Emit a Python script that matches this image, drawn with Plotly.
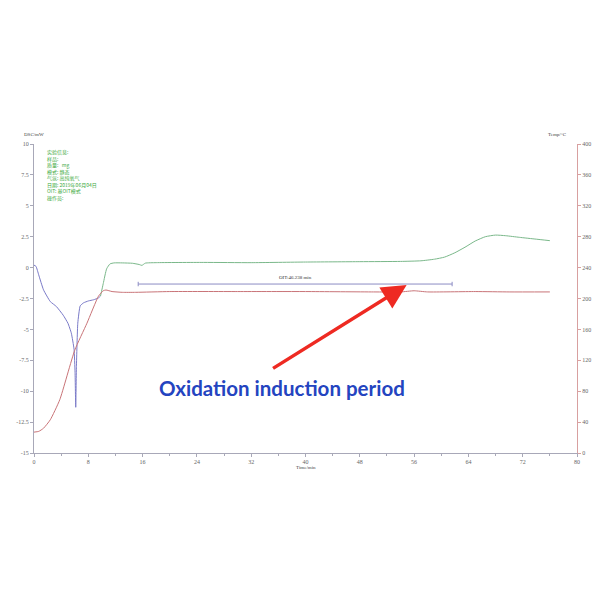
import plotly.graph_objects as go

# ---- data ----
heat_time = [0, 0.3, 0.7, 1.4, 2.4, 3.3, 4.3, 5.0, 5.5, 5.9, 6.05, 6.15, 6.25, 6.45, 6.8, 7.3, 8.0, 8.8, 9.5, 9.8]
heat_dsc = [0.2, 0.1, -0.6, -1.8, -2.75, -3.15, -3.85, -4.5, -5.3, -6.6, -8.5, -11.3, -8.0, -4.5, -3.1, -2.85, -2.7, -2.6, -2.45, -2.3]

iso_time = [9.8, 10.2, 10.7, 11.2, 11.8, 13, 14.5, 15.5, 15.9, 16.4, 18, 25, 32, 40, 48, 54, 57, 59,
            60.5, 62, 63.5, 65, 66.5, 68, 69.5, 71.5, 74, 76]
iso_dsc = [-2.3, -1.3, -0.1, 0.3, 0.38, 0.38, 0.35, 0.25, 0.18, 0.36, 0.4, 0.42, 0.4, 0.45, 0.48, 0.5, 0.55, 0.68,
           0.85, 1.2, 1.65, 2.15, 2.5, 2.63, 2.58, 2.45, 2.3, 2.18]

temp_time = [0, 0.7, 1.4, 2.4, 3.8, 6.0, 7.8, 9.5, 10.2, 10.6, 11.5, 13, 15, 20, 30, 40, 50, 54, 56, 58, 65, 70, 76]
temp_c = [27, 28, 32, 43, 69, 133, 168, 203, 210, 211, 209, 208, 208, 209, 209, 209, 208.5, 208.5, 210, 208.5, 209, 208.5, 208.5]

oit_start = 15.35
oit_end = 61.6
oit_level = -1.33
oit_label = "OIT:46.238 min"

x_ticks = [0, 8, 16, 24, 32, 40, 48, 56, 64, 72, 80]
y_ticks = [10, 7.5, 5, 2.5, 0, -2.5, -5, -7.5, -10, -12.5, -15]
y_tick_text = ["10", "7.5", "5", "2.5", "0", "-2.5", "-5", "-7.5", "-10", "-12.5", "-15"]
y2_ticks = [0, 40, 80, 120, 160, 200, 240, 280, 320, 360, 400]

info_lines = ["实验信息:", "样品:", "质量:   mg", "模式: 静态", "气氛: 高纯氧气",
              "日期: 2019年06月04日", "OIT: 基OIT模式", "操作员:"]

arrow_head = (54.9, -1.41)
arrow_tail = (35.0, -8.23)
caption = "Oxidation induction period"
caption_pos = (36.6, -9.74)

tick_font = dict(family="Liberation Serif", size=6, color="#666666")

fig = go.Figure()

fig.add_trace(go.Scatter(x=temp_time, y=temp_c, mode="lines", yaxis="y2",
                         line=dict(color="#c97478", width=1, shape="spline", smoothing=0.5),
                         showlegend=False, hoverinfo="skip"))
fig.add_trace(go.Scatter(x=heat_time, y=heat_dsc, mode="lines",
                         line=dict(color="#7a7ac8", width=1, shape="spline", smoothing=0.4),
                         showlegend=False))
fig.add_trace(go.Scatter(x=iso_time, y=iso_dsc, mode="lines",
                         line=dict(color="#7ab88a", width=1, shape="spline", smoothing=0.5),
                         showlegend=False))

cap = 0.18
fig.add_trace(go.Scatter(
    x=[oit_start, oit_end, None, oit_start, oit_start, None, oit_end, oit_end],
    y=[oit_level, oit_level, None, oit_level - cap, oit_level + cap, None, oit_level - cap, oit_level + cap],
    mode="lines", line=dict(color="#8c8cc4", width=1), showlegend=False, hoverinfo="skip"))

fig.add_annotation(x=(oit_start + oit_end) / 2, y=oit_level, text=oit_label, showarrow=False,
                   yanchor="bottom", yshift=2, font=dict(family="Liberation Serif", size=5, color="#333333"))

fig.add_annotation(x=arrow_head[0], y=arrow_head[1], ax=arrow_tail[0], ay=arrow_tail[1],
                   axref="x", ayref="y", xref="x", yref="y", text="", showarrow=True,
                   arrowhead=2, arrowsize=1.4, arrowwidth=3.5, arrowcolor="#ee2a22")

fig.add_annotation(x=caption_pos[0], y=caption_pos[1], text="<b>" + caption + "</b>", showarrow=False,
                   font=dict(family="Lato", size=20.5, color="#2444c0"))

fig.add_annotation(x=0.02, y=0.995, xref="paper", yref="paper", xanchor="left", yanchor="top",
                   text="<br>".join(info_lines), showarrow=False, align="left",
                   font=dict(family="Noto Sans CJK SC", size=5, color="#3aa83a"))

fig.add_annotation(x=-0.022, y=1.045, xref="paper", yref="paper", text="DSC/mW", showarrow=False,
                   font=dict(family="Liberation Serif", size=5, color="#444444"))
fig.add_annotation(x=0.985, y=1.045, xref="paper", yref="paper", text="Temp/°C", showarrow=False,
                   font=dict(family="Liberation Serif", size=5, color="#444444"))
fig.add_annotation(x=0.5, y=-0.06, xref="paper", yref="paper", text="Time/min", showarrow=False,
                   font=dict(family="Liberation Serif", size=5, color="#444444"))

fig.update_layout(
    width=592, height=592,
    margin=dict(l=26, r=23, t=136, b=147),
    paper_bgcolor="white", plot_bgcolor="white",
    xaxis=dict(range=[0, 80], tickvals=x_ticks, showgrid=False, zeroline=False, automargin=False,
               showline=True, linecolor="#a8a8b8", linewidth=1, ticks="outside", ticklen=3,
               tickcolor="#a8a8b8", tickfont=tick_font,
               minor=dict(dtick=4, ticks="outside", ticklen=2, tickcolor="#a8a8b8")),
    yaxis=dict(range=[-15, 10], tickvals=y_ticks, ticktext=y_tick_text, showgrid=False, zeroline=False,
               automargin=False,
               showline=True, linecolor="#a8a8b8", linewidth=1, ticks="outside", ticklen=3,
               tickcolor="#a8a8b8", tickfont=tick_font),
    yaxis2=dict(range=[0, 400], tickvals=y2_ticks, overlaying="y", side="right", showgrid=False,
                automargin=False,
                zeroline=False, showline=True, linecolor="#d8a0a0", linewidth=1, ticks="outside",
                ticklen=3, tickcolor="#d8a0a0", tickfont=tick_font),
)

fig.write_html("out.html")
